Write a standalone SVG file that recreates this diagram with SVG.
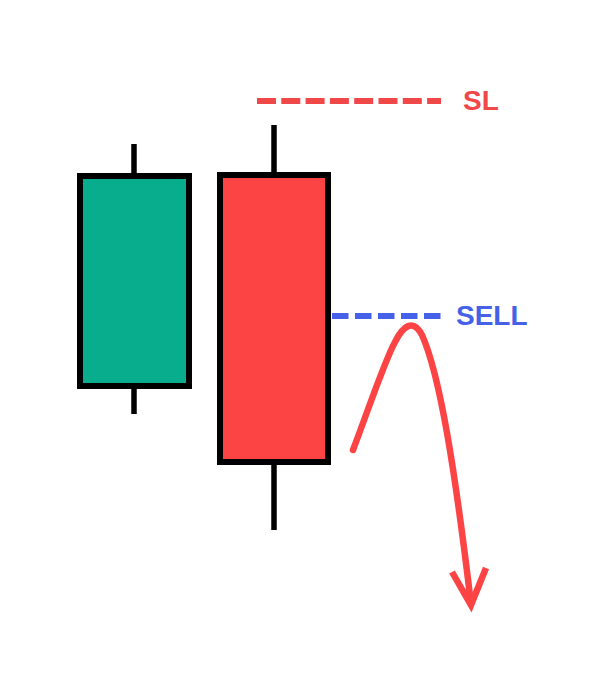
<svg xmlns="http://www.w3.org/2000/svg" width="591" height="674" viewBox="0 0 591 674">
<style>
.wick{stroke:#000;stroke-width:5.500;fill:none}
.body{stroke:#000;stroke-width:6}
.lbl{font-family:"Liberation Sans",Arial,sans-serif;font-weight:bold;font-size:28px}
</style>
<rect width="591" height="674" fill="#fff"/>
<g id="candle-green">
<line class="wick" x1="134" y1="144" x2="134" y2="414"/>
<rect class="body" x="80" y="176" width="109" height="210" fill="#08AD8E"/>
</g>
<g id="candle-red">
<line class="wick" x1="274" y1="125" x2="274" y2="530"/>
<rect class="body" x="220" y="175" width="108" height="287" fill="#FC4444"/>
</g>
<g id="sl">
<line x1="257" y1="101" x2="441" y2="101" stroke="#F04848" stroke-width="6" stroke-dasharray="19 5.300"/>
<text class="lbl" x="463" y="110" fill="#F04848">SL</text>
</g>
<g id="sell">
<line x1="332" y1="316" x2="441" y2="316" stroke="#4461E8" stroke-width="6" stroke-dasharray="16.500 6.500"/>
<text class="lbl" x="456" y="325" fill="#4461E8">SELL</text>
</g>
<g id="connectors">
<path d="M353,450 C370,405 385,360 395,342 C403,326 413,318 422,335 C440,375 455,470 471,604" fill="none" stroke="#FC4444" stroke-width="6.500" stroke-linecap="round"/>
<polyline points="452,572 471,605 486,568" fill="none" stroke="#FC4444" stroke-width="6.500" stroke-linecap="butt" stroke-linejoin="miter"/>
</g>
</svg>
